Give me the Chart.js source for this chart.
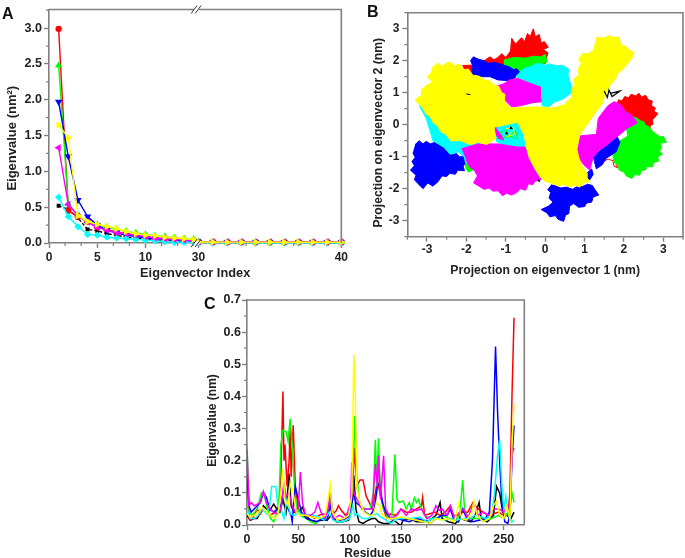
<!DOCTYPE html>
<html><head><meta charset="utf-8">
<script src="https://cdn.jsdelivr.net/npm/chart.js@4"></script>
<style>
html,body{margin:0;padding:0;background:#fff;width:685px;height:558px;overflow:hidden}
canvas{position:absolute}
.tag{position:absolute;font:bold 16px "Liberation Sans",Arial,sans-serif;color:#111}
</style></head><body>
<canvas id="a" style="left:0;top:0" width="350" height="285"></canvas>
<canvas id="b" style="left:355px;top:0" width="330" height="285"></canvas>
<canvas id="c" style="left:190px;top:285px" width="350" height="273"></canvas>
<div class="tag" style="left:2px;top:5px">A</div>
<div class="tag" style="left:367px;top:3px">B</div>
<div class="tag" style="left:204px;top:295px">C</div>
<script>
// ---------- Panel A ----------
const indexA = [1,2,3,4,5,6,7,8,9,10,11,12,13,14,15,30,31,32,33,34,35,36,37,38,39,40];
const aBlack  =[.52,.47,.35,.19,.17,.13,.11,.08,.07,.05,.04,.03,.03,.02,.02,.006,.006,.006,.005,.005,.005,.005,.005,.005,.004,.004];
const aRed    =[2.99,.45,.37,.30,.22,.19,.15,.13,.11,.09,.07,.06,.05,.04,.03,.012,.012,.012,.011,.011,.011,.01,.01,.01,.01,.01];
const aGreen  =[2.48,.55,.38,.30,.26,.22,.19,.16,.14,.12,.10,.09,.07,.06,.05,.014,.014,.013,.013,.013,.012,.012,.012,.012,.011,.011];
const aBlue   =[1.97,1.21,.60,.37,.25,.18,.14,.11,.09,.07,.06,.05,.04,.03,.02,.01,.01,.01,.01,.01,.009,.009,.009,.009,.009,.009];
const aCyan   =[.64,.37,.23,.12,.11,.08,.07,.06,.05,.04,.03,.02,.01,.01,.01,.005,.005,.005,.005,.004,.004,.004,.004,.004,.004,.004];
const aMagenta=[1.33,.54,.38,.29,.22,.18,.15,.13,.11,.09,.07,.06,.05,.04,.03,.016,.016,.016,.015,.015,.015,.015,.015,.014,.014,.014];
const aYellow =[1.65,1.47,.38,.30,.26,.23,.20,.16,.13,.11,.10,.08,.07,.06,.05,.013,.013,.012,.012,.012,.012,.011,.011,.011,.011,.011];
const xTicksA = [0,5,10,30,40];
const xMinorA = [5/3,10/3,20/3,25/3,35/3,40/3,100/3,110/3];
const yTicksA = [0,.5,1,1.5,2,2.5,3];

// ---------- Panel B : outlines of each cloud, in nm ----------
const redTop=[[-1.55,2.0],[-1.4,2.12],[-1.3,2.03],[-1.2,2.1],[-1.1,2.22],[-1.0,2.1],[-.88,2.3],[-.85,2.7],[-.75,2.52],[-.6,2.72],[-.52,2.6],[-.45,2.85],[-.38,2.75],[-.3,3.0],[-.25,2.75],[-.15,2.82],[-.1,2.55],[-.02,2.6],[.08,2.42],[-.05,2.35],[.07,2.25],[0,1.9],[-.5,1.85],[-1,1.75],[-1.4,1.85]];
const redSmall=[[-2.1,1.85],[-1.88,1.86],[-1.78,1.75],[-1.8,1.55],[-1.98,1.55],[-2.05,1.7]];
const redRight=[[1.85,.78],[1.95,.74],[2.02,.88],[2.12,.84],[2.18,.95],[2.3,.9],[2.38,.98],[2.45,.86],[2.55,.92],[2.62,.78],[2.72,.74],[2.7,.6],[2.8,.52],[2.76,.42],[2.86,.35],[2.78,.22],[2.72,.15],[2.74,.02],[2.66,-.05],[2.68,-.18],[2.45,-.15],[2.3,0],[2,.3],[1.8,.6]];
const redLow=[[1.5,-1.02],[1.7,-.9],[1.85,-1.1],[1.8,-1.25],[1.85,-1.35],[1.75,-1.3],[1.72,-1.12],[1.6,-1.08],[1.52,-1.12]];
const greenTop=[[-1.05,2.02],[-.8,2.1],[-.5,2.08],[-.3,2.14],[-.1,2.12],[.0,2.2],[.05,1.95],[-.3,1.8],[-.7,1.65],[-1.05,1.8]];
const greenRight=[[2.2,.26],[2.34,.2],[2.42,.12],[2.5,.1],[2.55,-.02],[2.64,-.06],[2.72,-.2],[2.82,-.3],[2.92,-.38],[3.0,-.36],[3.08,-.55],[2.92,-.58],[2.96,-.72],[2.9,-.82],[2.98,-.92],[2.86,-1.0],[2.88,-1.14],[2.76,-1.18],[2.72,-1.32],[2.6,-1.3],[2.54,-1.42],[2.44,-1.42],[2.4,-1.58],[2.28,-1.56],[2.2,-1.68],[2.06,-1.6],[2.0,-1.48],[1.88,-1.42],[1.84,-1.25],[1.74,-1.16],[1.72,-.9],[1.85,-.55],[2.1,-.35],[2.05,0]];
const greenSmall=[[-2.05,-1.18],[-1.7,-1.28],[-1.72,-1.4],[-1.85,-1.42],[-1.95,-1.48],[-2.02,-1.35]];
const blueTop=[[-1.9,2.0],[-1.82,2.12],[-1.7,2.05],[-1.55,2.0],[-1.45,1.92],[-1.3,1.95],[-1.1,1.88],[-.9,1.8],[-.8,1.72],[-.72,1.75],[-.62,1.6],[-.82,1.42],[-.95,1.38],[-1.2,1.4],[-1.4,1.5],[-1.6,1.5],[-1.85,1.6],[-1.85,1.82]];
const blueLeft=[[-3.3,-.62],[-3.2,-.5],[-3.1,-.6],[-3.02,-.52],[-2.92,-.6],[-2.8,-.55],[-2.68,-.62],[-2.6,-.6],[-2.55,-.78],[-2.42,-.85],[-2.4,-.95],[-2.25,-.9],[-2.18,-1.0],[-2.08,-1.0],[-2.02,-1.18],[-2.08,-1.3],[-2.05,-1.44],[-2.22,-1.42],[-2.28,-1.55],[-2.42,-1.52],[-2.5,-1.62],[-2.62,-1.6],[-2.72,-1.78],[-2.85,-1.92],[-2.98,-1.82],[-3.1,-2.0],[-3.22,-1.85],[-3.32,-1.72],[-3.28,-1.58],[-3.42,-1.42],[-3.32,-1.28],[-3.38,-1.15],[-3.3,-1.02],[-3.36,-.88]];
const blueBottom=[[.15,-1.88],[.3,-1.92],[.4,-1.98],[.55,-1.95],[.7,-2.02],[.82,-1.92],[.95,-1.93],[1.08,-1.86],[1.2,-1.9],[1.26,-2.02],[1.36,-2.2],[1.22,-2.26],[1.18,-2.42],[1.05,-2.45],[1.0,-2.56],[.85,-2.58],[.72,-2.46],[.62,-2.55],[.6,-2.78],[.52,-2.82],[.47,-3.02],[.33,-2.96],[.26,-2.84],[.12,-2.88],[.05,-2.76],[-.1,-2.65],[.08,-2.55],[.2,-2.42],[.1,-2.3],[.14,-2.12],[.06,-2.02]];
const blueRight=[[1.2,-1.0],[1.35,-.85],[1.55,-.65],[1.8,-.3],[1.9,-.55],[1.8,-.85],[1.55,-1.05],[1.45,-1.25],[1.3,-1.38],[1.25,-1.15]];
const blueSmall=[[1.0,-1.58],[1.18,-1.38],[1.22,-1.55],[1.12,-1.75]];
const cyanTop=[[-.75,1.5],[-.65,1.62],[-.55,1.75],[-.35,1.82],[-.2,1.92],[.0,1.86],[.1,1.9],[.3,1.84],[.42,1.86],[.6,1.74],[.58,1.55],[.64,1.3],[.72,1.05],[.45,.8],[.25,.72],[.08,.55],[-.08,.6],[-.12,1.1],[-.4,1.3]];
const cyanLeft=[[-3.2,.6],[-3.02,.2],[-2.92,-.2],[-2.85,-.5],[-2.55,-.72],[-2.42,-.92],[-2.2,-.85],[-2.05,-1.02],[-2.02,-1.2],[-1.88,-.95],[-1.6,-.5],[-2,0],[-2.5,.4]];
const cyanMid=[[-1.3,0],[-.6,.05],[-.55,-.4],[-.5,-.68],[-.8,-.72],[-1.05,-.7],[-1.25,-.5]];
const magentaTop=[[-1.25,1.2],[-1.05,1.28],[-.9,1.4],[-.7,1.45],[-.4,1.3],[-.12,1.18],[-.12,.95],[-.1,.72],[-.35,.68],[-.6,.6],[-.85,.55],[-1.05,.8]];
const magentaBottom=[[-2.12,-.75],[-1.7,-.6],[-1.2,-.6],[-.7,-.7],[-.5,-.7],[-.4,-1],[-.3,-1.3],[-.18,-1.55],[-.1,-1.72],[-.25,-1.76],[-.32,-1.88],[-.42,-1.84],[-.5,-2.05],[-.62,-2.0],[-.72,-2.12],[-.85,-2.2],[-.98,-2.14],[-1.08,-2.22],[-1.2,-2.06],[-1.32,-2.08],[-1.42,-1.98],[-1.55,-2.02],[-1.68,-1.92],[-1.82,-1.82],[-1.72,-1.6],[-1.8,-1.42],[-1.92,-1.32],[-2,-1.1]];
const magentaRight=[[.88,-.35],[1.3,-.3],[1.35,.2],[1.6,.6],[1.75,.72],[1.92,.62],[2.05,.4],[2.18,.32],[2.34,.06],[2.1,-.1],[1.85,-.35],[1.6,-.6],[1.35,-.82],[1.22,-1.02],[1.13,-1.42],[.98,-1.25],[.85,-1.05],[.82,-.75]];
const yellowMain=[[-2.87,1.78],[-2.72,1.92],[-2.62,1.82],[-2.52,1.92],[-2.42,1.96],[-2.3,1.84],[-2.18,1.9],[-2.08,1.72],[-1.95,1.74],[-1.82,1.52],[-1.68,1.52],[-1.55,1.4],[-1.42,1.38],[-1.3,1.24],[-1.18,1.2],[-1.1,1.0],[-1.02,.95],[-1.04,.72],[-.88,.52],[-.5,.55],[-.1,.55],[.2,.52],[.48,.62],[.66,.85],[.68,1.15],[.76,1.25],[.72,1.42],[.86,1.56],[.84,1.74],[.92,1.92],[.85,2.05],[.95,2.22],[1.1,2.22],[1.22,2.32],[1.28,2.55],[1.32,2.74],[1.48,2.7],[1.62,2.78],[1.78,2.72],[1.88,2.74],[1.92,2.48],[2.05,2.45],[2.12,2.35],[2.26,2.25],[2.2,2.08],[2.12,1.95],[1.98,1.74],[1.86,1.62],[1.78,1.42],[1.66,1.26],[1.6,1.1],[1.52,.95],[1.46,.68],[1.3,.42],[1.18,.22],[1.08,.02],[.92,-.22],[.86,-.4],[.8,-.75],[.86,-1.05],[.95,-1.32],[1.05,-1.5],[1.06,-1.66],[1.14,-1.76],[.98,-1.82],[.88,-1.95],[.72,-1.88],[.62,-1.95],[.46,-1.86],[.34,-1.92],[.15,-1.82],[.02,-1.78],[-.12,-1.65],[-.25,-1.4],[-.4,-1.05],[-.48,-.7],[-.52,-.35],[-.7,.08],[-1.3,-.08],[-1.25,-.42],[-1.48,-.62],[-1.7,-.55],[-1.9,-.62],[-2.15,-.5],[-2.4,-.5],[-2.52,-.3],[-2.65,-.22],[-2.74,-.02],[-2.84,.05],[-2.92,.25],[-3.02,.32],[-3.1,.5],[-3.3,.78],[-3.14,.92],[-3.14,1.1],[-3.02,1.22],[-2.86,1.34],[-3.0,1.5],[-2.9,1.62]];
const holeGreen=[[-1.15,-.25],[-1.0,-.15],[-.95,-.42],[-.75,-.18],[-.7,-.45],[-.92,-.35],[-1.1,-.42]];
const holeMagenta=[[-1.4,-.05],[-1.25,.05],[-1.25,-.12],[-1.1,-.35],[-1.05,-.48],[-1.2,-.42]];
const holeYellow=[[-1.0,-.12],[-.8,-.1],[-.78,-.3],[-.98,-.38],[-.85,-.22]];
const blackBits1=[[1.5,1.05],[1.58,.85],[1.62,1.08],[1.7,.88],[1.9,1.05],[1.65,.98]];
const blackBits2=[[-1.02,-.28],[-.95,-.3],[-.98,-.22]];
const blackBits3=[[-.88,-.06],[-.83,-.12],[-.9,-.12]];
const blackBits4=[[-2.0,.96],[-1.9,.94]];
const blackBits5=[[-.18,-1.72],[-.14,-1.78]];
const ticksB=[-3,-2,-1,0,1,2,3];
const minorB=[-3.5,-2.5,-1.5,-.5,.5,1.5,2.5,3.5];

// ---------- Panel C : [residue, value] ----------
const cBlack=[[0,.03],[3,.015],[7,.02],[10,.02],[13,.04],[16,.06],[19,.05],[22,.045],[26,.065],[29,.05],[32,.04],[35,.08],[38,.04],[41,.16],[43,.06],[46,.04],[50,.04],[54,.055],[57,.03],[62,.015],[67,.01],[72,.015],[78,.015],[82,.03],[87,.01],[93,.01],[99,.015],[102,.05],[104,.155],[106,.05],[109,.01],[113,.005],[118,.015],[122,.02],[125,.02],[128,.01],[133,.005],[138,.005],[143,.015],[149,.0],[150,.0],[152,.015],[158,.02],[165,.01],[172,.01],[178,.015],[184,.03],[188,.07],[190,.02],[196,.01],[203,.005],[208,.02],[213,.015],[218,.01],[222,.03],[226,.07],[228,.02],[234,.01],[240,.03],[243,.12],[246,.1],[249,.04],[253,.03],[257,.02],[260,.04]];
const cRed=[[0,.17],[2,.02],[4,.015],[7,.03],[10,.05],[13,.035],[16,.05],[19,.04],[22,.03],[25,.035],[28,.04],[31,.06],[33,.15],[35,.415],[36,.2],[37,.25],[39,.12],[41,.2],[42,.3],[43,.15],[45,.31],[47,.12],[50,.05],[53,.03],[57,.025],[62,.03],[66,.02],[70,.03],[74,.035],[78,.03],[81,.08],[84,.035],[87,.045],[89,.06],[92,.045],[96,.03],[100,.04],[103,.13],[105,.24],[107,.12],[110,.14],[113,.14],[116,.09],[119,.07],[122,.05],[125,.1],[127,.14],[130,.09],[133,.05],[136,.02],[140,.035],[145,.03],[150,.05],[155,.04],[160,.04],[165,.05],[170,.06],[171,.085],[173,.03],[178,.035],[183,.04],[188,.03],[193,.04],[198,.06],[201,.03],[206,.03],[210,.04],[215,.04],[220,.07],[225,.05],[230,.04],[235,.03],[240,.035],[245,.04],[250,.03],[254,.03],[256,.1],[258,.4],[260,.645]];
const cGreen=[[0,.255],[2,.04],[5,.03],[10,.05],[14,.1],[17,.09],[20,.05],[23,.02],[26,.01],[28,.03],[31,.06],[33,.25],[35,.295],[38,.29],[40,.26],[42,.33],[44,.25],[46,.13],[48,.06],[52,.03],[58,.02],[62,.01],[67,.005],[72,.02],[78,.02],[81,.11],[84,.02],[90,.015],[96,.02],[100,.03],[103,.14],[105,.34],[107,.15],[110,.06],[115,.05],[120,.05],[123,.1],[125,.265],[126.5,.12],[128,.27],[130,.1],[133,.05],[138,.02],[141,.02],[144,.22],[146,.08],[148,.07],[152,.075],[155,.05],[158,.07],[160,.05],[163,.085],[165,.07],[167,.08],[170,.05],[173,.03],[178,.02],[185,.02],[190,.03],[197,.02],[203,.015],[207,.03],[210,.14],[212,.04],[218,.02],[225,.02],[232,.015],[238,.02],[245,.03],[250,.02],[254,.04],[256,.05],[258,.1],[260,.07]];
const cBlue=[[0,.16],[2,.06],[4,.04],[7,.05],[10,.06],[13,.07],[16,.1],[19,.085],[22,.05],[26,.04],[30,.05],[33,.06],[36,.12],[38,.08],[40,.05],[43,.03],[44,.01],[47,.12],[50,.08],[53,.04],[58,.02],[63,.015],[68,.01],[73,.02],[78,.015],[81,.06],[84,.02],[90,.015],[96,.02],[100,.03],[104,.1],[106,.07],[110,.06],[115,.04],[120,.03],[124,.05],[127,.12],[129,.13],[132,.07],[135,.04],[140,.02],[146,.02],[152,.015],[158,.01],[165,.02],[172,.015],[178,.005],[184,.02],[190,.03],[195,.03],[198,.05],[201,.02],[206,.01],[210,.05],[214,.02],[220,.01],[226,.015],[232,.02],[236,.04],[239,.2],[242,.555],[244,.35],[246,.2],[248,.08],[251,.01],[254,.005],[256,.03],[258,.2],[260,.31]];
const cCyan=[[0,.05],[3,.02],[7,.02],[11,.03],[15,.05],[19,.035],[22,.06],[24,.12],[28,.12],[30,.06],[33,.05],[36,.02],[39,.08],[42,.035],[46,.03],[50,.04],[55,.03],[60,.03],[65,.03],[70,.025],[75,.015],[80,.04],[84,.015],[88,.01],[94,.01],[100,.02],[103,.06],[105,.03],[107,.035],[112,.02],[118,.02],[122,.03],[127,.035],[130,.025],[135,.015],[140,.005],[146,.02],[152,.02],[160,.02],[168,.025],[175,.01],[180,.02],[186,.02],[192,.015],[198,.02],[204,.015],[210,.02],[216,.02],[222,.03],[228,.025],[233,.02],[238,.03],[241,.1],[244,.22],[246,.265],[248,.13],[250,.05],[252,.09],[254,.04],[256,.02],[258,.01],[260,.015]];
const cMagenta=[[0,.235],[2,.06],[4,.07],[7,.06],[10,.065],[13,.07],[16,.105],[19,.07],[22,.05],[26,.04],[30,.035],[33,.05],[36,.13],[38,.09],[41,.1],[44,.06],[47,.04],[50,.06],[52,.165],[54,.07],[57,.03],[62,.03],[66,.04],[69,.07],[72,.04],[76,.02],[79,.05],[81,.1],[84,.02],[90,.03],[96,.02],[101,.07],[102,.195],[104,.1],[107,.08],[112,.05],[118,.05],[122,.05],[125,.19],[127,.12],[128,.215],[130,.08],[133,.215],[135,.05],[140,.02],[146,.03],[150,.05],[155,.03],[160,.05],[165,.045],[170,.05],[175,.02],[180,.03],[184,.06],[187,.045],[190,.05],[195,.03],[198,.06],[202,.02],[207,.04],[211,.05],[215,.02],[221,.07],[225,.03],[230,.04],[235,.03],[240,.05],[245,.05],[250,.04],[254,.06],[256,.05],[258,.22],[260,.24]];
const cYellow=[[0,.035],[3,.025],[7,.03],[11,.04],[15,.055],[19,.04],[23,.03],[27,.02],[30,.03],[33,.1],[35,.175],[37,.08],[40,.06],[42,.13],[45,.1],[48,.04],[52,.03],[57,.03],[63,.025],[70,.02],[76,.03],[79,.08],[81,.125],[83,.04],[88,.015],[94,.02],[99,.03],[102,.09],[104,.53],[105.5,.4],[107,.12],[110,.07],[114,.04],[119,.03],[123,.03],[126,.07],[129,.06],[132,.03],[137,.02],[143,.02],[150,.025],[157,.02],[165,.015],[172,.01],[178,.005],[184,.02],[190,.015],[196,.02],[202,.01],[206,.065],[209,.02],[214,.015],[219,.04],[221,.075],[224,.03],[230,.01],[236,.02],[240,.06],[243,.075],[246,.03],[250,.02],[253,.06],[256,.02],[258,.25],[260,.375]];
const xTicksC=[0,50,100,150,200,250];
const xMinorC=[25,75,125,175,225];
const yTicksC=[0,.1,.2,.3,.4,.5,.6,.7];
const yMinorC=[.05,.15,.25,.35,.45,.55,.65];

const BLACK='#000000',RED='#ff0000',GREEN='#00ff00',BLUE='#0000ff',CYAN='#00ffff',MAGENTA='#ff00ff',YELLOW='#ffff00';
const FONT='"Liberation Sans",Arial,sans-serif';
const INK='#222', FRAME='#808080';
Chart.defaults.animation=false;
Chart.defaults.devicePixelRatio=1;
Chart.defaults.responsive=false;
Chart.defaults.font.family=FONT;
Chart.defaults.font.weight='bold';
Chart.defaults.color=INK;

// Broken axis of panel A: index to scale position
const breakAt=15.5, stretch=1.48;
const toAxisA=i=>i<=15?i:breakAt+(i-30)*stretch;
const xMaxA=toAxisA(40), yMaxA=3.26;

function axis(opts){
  const {min,max,ticks,size,horizontal,title,fmt,tickPad,shift}=opts;
  return {
    type:'linear',min,max,
    border:{color:FRAME,width:1.6},
    grid:{drawOnChartArea:false,drawTicks:true,tickLength:5,tickColor:FRAME,tickWidth:1.4},
    title:{display:true,text:title,font:{size:opts.titleSize||13,weight:'bold',family:FONT},color:INK,padding:0},
    ticks:{autoSkip:false,maxRotation:0,padding:tickPad==null?2:tickPad,font:{size:opts.tickSize||12,weight:'bold',family:FONT},color:INK,callback:fmt||(v=>String(v))},
    afterBuildTicks(s){s.ticks=ticks.map(v=>({value:v}));},
    afterFit(s){
      if(horizontal) s.height=size; else s.width=size;
      if(shift && !s._shifted){
        s._shifted=true;
        const draw=s.drawTitle;
        s.drawTitle=function(){const c=this.ctx;c.save();c.translate(shift[0],shift[1]);draw.call(this);c.restore();};
      }
    }
  };
}
const framePlugin=(xMinor,yMinor,brk)=>({
  id:'frame',
  afterDraw(ch){
    const {ctx,chartArea:a,scales:{x,y}}=ch;
    ctx.save();
    ctx.strokeStyle=FRAME;ctx.lineWidth=1.6;
    ctx.beginPath();ctx.moveTo(a.left,a.top);ctx.lineTo(a.right,a.top);ctx.lineTo(a.right,a.bottom);ctx.stroke();
    ctx.lineWidth=1.2;ctx.beginPath();
    xMinor.forEach(v=>{const p=x.getPixelForValue(v);ctx.moveTo(p,a.bottom);ctx.lineTo(p,a.bottom+3);});
    yMinor.forEach(v=>{const p=y.getPixelForValue(v);ctx.moveTo(a.left,p);ctx.lineTo(a.left-3,p);});
    ctx.stroke();
    if(brk!=null){
      const p=x.getPixelForValue(brk);
      [a.top,a.bottom].forEach(yy=>{
        ctx.fillStyle='#fff';ctx.fillRect(p-2,yy-2,5,4);
        ctx.strokeStyle='#333';ctx.lineWidth=1;ctx.beginPath();
        [-2,2].forEach(d=>{ctx.moveTo(p+d-3,yy+4);ctx.lineTo(p+d+3,yy-4);});
        ctx.stroke();
      });
    }
    ctx.restore();
  }
});

// ---------- build A ----------
const lineA=(values,color,style,rot,dash)=>{
  const data=[];
  indexA.forEach((i,k)=>{
    if(i===30) data.push({x:toAxisA(15)+.3,y:null});
    data.push({x:toAxisA(i),y:values[k]});
  });
  const r=style==='triangle'?4.2:style==='rect'?2.8:style==='rectRot'?3.6:3.2;
  return {data,showLine:true,borderColor:color,backgroundColor:color,borderWidth:1.4,borderDash:dash||[],pointStyle:style,pointRotation:rot||0,pointRadius:r,pointBorderWidth:0,tension:0,spanGaps:false,clip:false};
};
// Chart.js paints the first dataset on top, so each list below is written bottom-to-top and reversed.
new Chart('a',{type:'scatter',
  data:{datasets:[
    lineA(aBlack,BLACK,'rect',0,[3,2]),
    lineA(aRed,RED,'circle'),
    lineA(aGreen,GREEN,'triangle'),
    lineA(aBlue,BLUE,'triangle',180),
    lineA(aCyan,CYAN,'rectRot'),
    lineA(aMagenta,MAGENTA,'triangle',270),
    lineA(aYellow,YELLOW,'triangle',90)
  ].reverse()},
  options:{layout:{padding:{left:0,top:5,right:8,bottom:0}},plugins:{legend:{display:false},tooltip:{enabled:false}},
    scales:{
      x:axis({min:0,max:xMaxA,ticks:xTicksA.map(toAxisA),horizontal:true,size:42,title:'Eigenvector Index',titleSize:12.8,shift:[0,-4],
        fmt:v=>{const k=xTicksA.map(toAxisA).indexOf(v);return k<0?'':String(xTicksA[k]);}}),
      y:axis({min:0,max:yMaxA,ticks:yTicksA,size:49,title:'Eigenvalue (nm²)',tickSize:12.5,shift:[5,12],fmt:v=>v.toFixed(1)})
    }},
  plugins:[framePlugin(xMinorA.map(toAxisA),yTicksA.map(v=>v+.25).filter(v=>v<yMaxA),(toAxisA(15)+breakAt)/2)]
});

// ---------- build B ----------
const cloud=(pts,color)=>({data:pts.map(([x,y])=>({x,y})),showLine:true,borderColor:color,backgroundColor:color,borderWidth:1,fill:'shape',pointRadius:0,tension:0});
const strand=(pts,color,w)=>({data:pts.map(([x,y])=>({x,y})),showLine:true,borderColor:color,borderWidth:w||1,fill:false,pointRadius:0,tension:0});
new Chart('b',{type:'scatter',
  data:{datasets:[
    cloud(redTop,RED),cloud(redSmall,RED),cloud(redRight,RED),strand(redLow,RED),
    cloud(greenTop,GREEN),cloud(greenRight,GREEN),cloud(greenSmall,GREEN),
    cloud(blueTop,BLUE),cloud(blueLeft,BLUE),cloud(blueBottom,BLUE),cloud(blueRight,BLUE),cloud(blueSmall,BLUE),
    cloud(cyanTop,CYAN),cloud(cyanLeft,CYAN),cloud(cyanMid,CYAN),
    cloud(magentaTop,MAGENTA),cloud(magentaBottom,MAGENTA),cloud(magentaRight,MAGENTA),cloud(holeMagenta,MAGENTA),
    strand(holeGreen,GREEN),
    cloud(yellowMain,YELLOW),strand(holeYellow,YELLOW),
    strand(blackBits1,BLACK,1.2),cloud(blackBits2,BLACK),cloud(blackBits3,BLACK),strand(blackBits4,BLACK),strand(blackBits5,BLACK,1.5)
  ].reverse()},
  options:{layout:{padding:{left:0,top:12.7,right:2,bottom:0}},plugins:{legend:{display:false},tooltip:{enabled:false}},
    scales:{
      x:axis({min:-3.5,max:3.5,ticks:ticksB,horizontal:true,size:48.3,title:'Projection on eigenvector 1 (nm)',titleSize:12.2,tickPad:1,shift:[0,-7]}),
      y:axis({min:-3.5,max:3.5,ticks:ticksB,size:52.3,title:'Projection on eigenvector 2 (nm)',titleSize:12.2,tickPad:3,shift:[16,8]})
    }},
  plugins:[framePlugin(minorB,minorB,null)]
});

// ---------- build C ----------
const curve=(pts,color)=>({data:pts.map(([x,y])=>({x,y})),showLine:true,borderColor:color,borderWidth:1.5,pointRadius:0,tension:0,fill:false});
new Chart('c',{type:'scatter',
  data:{datasets:[curve(cBlack,BLACK),curve(cRed,RED),curve(cGreen,GREEN),curve(cBlue,BLUE),curve(cCyan,CYAN),curve(cMagenta,MAGENTA),curve(cYellow,YELLOW)].reverse()},
  options:{layout:{padding:{left:0,top:15,right:15.7,bottom:0}},plugins:{legend:{display:false},tooltip:{enabled:false}},
    scales:{
      x:axis({min:0,max:270,ticks:xTicksC,horizontal:true,size:33,title:'Residue',titleSize:12,tickSize:12.5,shift:[-18,3]}),
      y:axis({min:0,max:.7,ticks:yTicksC,size:57,title:'Eigenvalue (nm)',titleSize:12,tickSize:12.5,tickPad:1,shift:[15,8],fmt:v=>v.toFixed(1)})
    }},
  plugins:[framePlugin(xMinorC,yMinorC,null)]
});
</script></body></html>
